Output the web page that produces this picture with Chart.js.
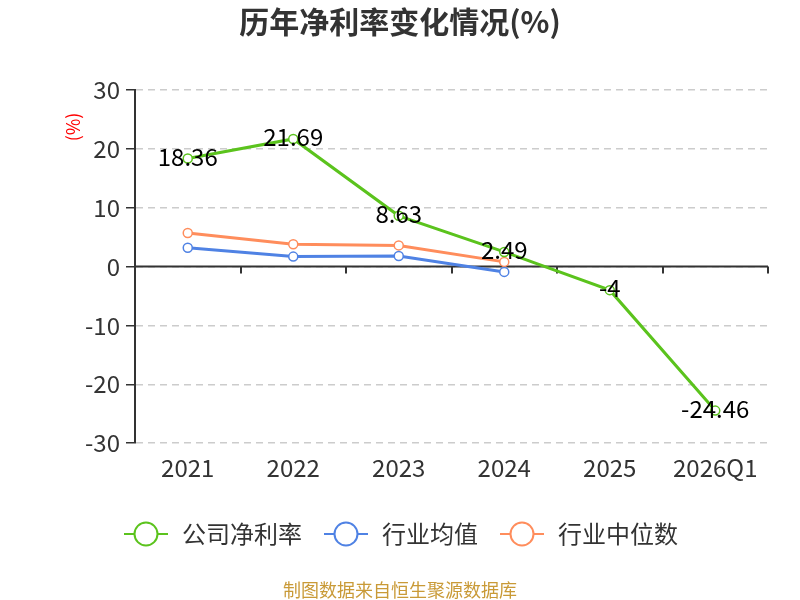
<!DOCTYPE html>
<html>
<head>
<meta charset="utf-8">
<script src="https://cdn.jsdelivr.net/npm/chart.js@4/dist/chart.umd.min.js"></script>
<style>
  body { margin: 0; background: #fff; }
  #wrap { width: 800px; height: 600px; }
</style>
</head>
<body>
<div id="wrap"><canvas id="c" width="800" height="600"></canvas></div>
<script>
var FONT = "'Noto Sans CJK SC', 'Noto Sans', sans-serif"

// data
var years = ["2021", "2022", "2023", "2024", "2025", "2026Q1"]
var companyMargin = [18.36, 21.69, 8.63, 2.49, -4, -24.46]
var industryAvg = [3.2, 1.7, 1.8, -0.9, null, null]
var industryMedian = [5.7, 3.8, 3.6, 0.8, null, null]
var yTicks = [30, 20, 10, 0, -10, -20, -30]
var seriesNames = ["公司净利率", "行业均值", "行业中位数"]
var seriesColors = ["#5bc31d", "#4f82e4", "#ff8d5c"]

function legendMarker(color) {
  var cv = document.createElement("canvas")
  cv.width = 46
  cv.height = 28
  var g = cv.getContext("2d")
  g.strokeStyle = color
  g.lineWidth = 2
  g.beginPath()
  g.moveTo(1, 14)
  g.lineTo(45, 14)
  g.stroke()
  g.fillStyle = "#fff"
  g.beginPath()
  g.arc(23, 14, 11.5, 0, Math.PI * 2)
  g.fill()
  g.stroke()
  return cv
}

function makeSet(i, values) {
  return {
    label: seriesNames[i],
    data: values,
    borderColor: seriesColors[i],
    backgroundColor: "#fff",
    borderWidth: 3,
    pointRadius: 4.5,
    pointBorderWidth: 1.5,
    pointBackgroundColor: "#fff",
    pointStyle: "circle",
    legendStyle: legendMarker(seriesColors[i]),
    tension: 0,
    spanGaps: false,
  }
}

var extras = {
  id: "extras",
  afterLayout: function (chart) {
    // title and legend are centred on the page, not on the padded box
    chart.titleBlock.left += 16
    chart.titleBlock.right += 16
    chart.legend.left += 16
    chart.legend.right += 16
    chart.legend.top += 10
    chart.legend.bottom += 10
  },
  beforeDatasetsDraw: function (chart) {
    // solid zero line with the category ticks hanging below it
    var ctx = chart.ctx
    var area = chart.chartArea
    var y0 = chart.scales.y.getPixelForValue(0)
    ctx.save()
    ctx.strokeStyle = "#333"
    ctx.lineWidth = 2
    ctx.beginPath()
    ctx.moveTo(area.left, y0)
    ctx.lineTo(area.right, y0)
    var step = (area.right - area.left) / years.length
    for (var i = 0; i <= years.length; i++) {
      var tx = Math.round(area.left + step * i)
      ctx.moveTo(tx, y0)
      ctx.lineTo(tx, y0 + 7)
    }
    ctx.stroke()
    ctx.restore()
  },
  afterDatasetsDraw: function (chart) {
    var ctx = chart.ctx
    var meta = chart.getDatasetMeta(0)
    ctx.save()
    ctx.font = "24px " + FONT
    ctx.fillStyle = "#000"
    ctx.textAlign = "center"
    ctx.textBaseline = "middle"
    meta.data.forEach(function (pt, i) {
      ctx.fillText(String(companyMargin[i]), pt.x, pt.y - 2)
    })
    ctx.restore()
  },
  afterDraw: function (chart) {
    var ctx = chart.ctx
    ctx.save()
    ctx.fillStyle = "#f00"
    ctx.font = "18px " + FONT
    ctx.textAlign = "center"
    ctx.textBaseline = "middle"
    ctx.translate(73, 127)
    ctx.rotate(-Math.PI / 2)
    ctx.fillText("(%)", 0, 0)
    ctx.restore()
    ctx.save()
    ctx.fillStyle = "#c99a37"
    ctx.font = "18px " + FONT
    ctx.textAlign = "center"
    ctx.textBaseline = "middle"
    ctx.fillText("制图数据来自恒生聚源数据库", 400, 590)
    ctx.restore()
  },
}

new Chart(document.getElementById("c"), {
  type: "line",
  data: {
    labels: years,
    datasets: [makeSet(0, companyMargin), makeSet(1, industryAvg), makeSet(2, industryMedian)],
  },
  plugins: [extras],
  options: {
    responsive: false,
    animation: false,
    layout: { padding: { left: 0, right: 32, top: 0, bottom: 54 } },
    plugins: {
      title: {
        display: true,
        text: "历年净利率变化情况(%)",
        color: "#333",
        font: { family: FONT, size: 30, weight: "bold" },
        padding: { top: 4, bottom: 50 },
      },
      legend: {
        position: "bottom",
        labels: {
          usePointStyle: true,
          pointStyleWidth: 48,
          color: "#333",
          padding: 20,
          font: { family: FONT, size: 24 },
          generateLabels: function (chart) {
            return chart.data.datasets.map(function (ds, i) {
              return {
                text: ds.label,
                pointStyle: ds.legendStyle,
                fontColor: "#333",
                strokeStyle: ds.borderColor,
                fillStyle: "#fff",
                lineWidth: 0,
                datasetIndex: i,
              }
            })
          },
        },
      },
      tooltip: { enabled: false },
    },
    scales: {
      x: {
        offset: true,
        grid: { display: false, drawTicks: false },
        border: { display: false },
        ticks: { color: "#333", padding: 10, font: { family: FONT, size: 24 } },
      },
      y: {
        min: -30,
        max: 30,
        afterFit: function (scale) {
          scale.width = 135
        },
        afterBuildTicks: function (scale) {
          scale.ticks = yTicks.map(function (v) {
            return { value: v }
          })
        },
        grid: { color: "#ccc", lineWidth: 1.5, tickColor: "#333", tickLength: 9, tickBorderDash: [] },
        border: { color: "#333", width: 2, dash: [7, 5] },
        ticks: { color: "#333", padding: 6, font: { family: FONT, size: 24 } },
      },
    },
  },
})
</script>
</body>
</html>
